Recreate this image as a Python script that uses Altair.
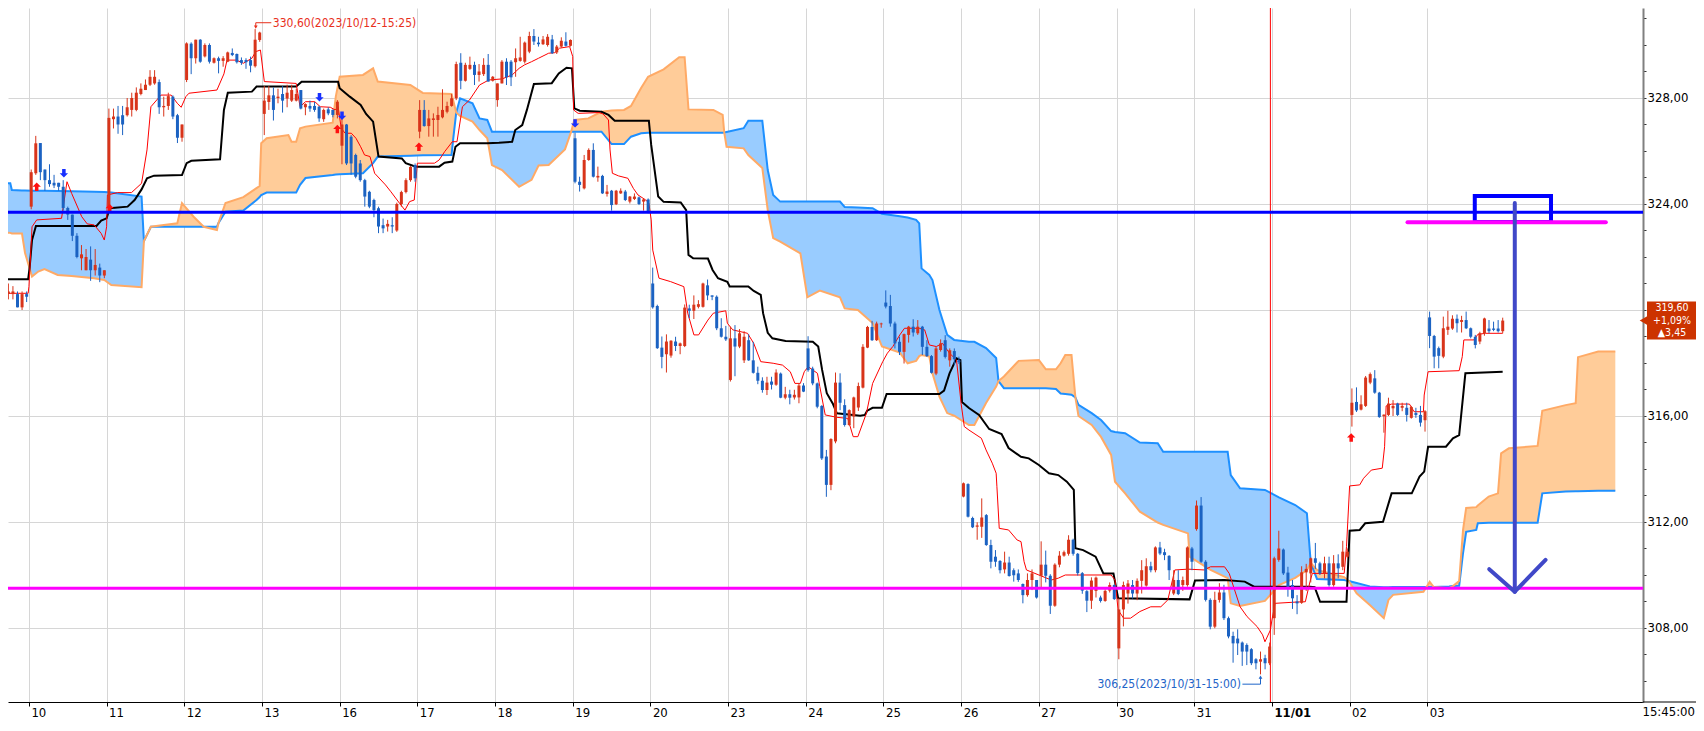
import json
import pandas as pd
import altair as alt


# ── look ───────────────────────────────────────────────────────────────────────

FONT = "'Liberation Sans Narrow', 'DejaVu Sans Condensed', sans-serif"
UP_COLOR, DOWN_COLOR = '#d8341a', '#1b62c2'
CLOUD_FILL = {'blue': '#99ccff', 'orange': '#ffcc99'}
CLOUD_LINE = {'blue': '#1e90ff', 'orange': '#ffaa66'}
PLOT_W, PLOT_H = 1635, 694

# ── axes ───────────────────────────────────────────────────────────────────────

DAY_LABELS = ['10', '11', '12', '13', '16', '17', '18', '19', '20', '23', '24',
              '25', '26', '27', '30', '31', '11/01', '02', '03']
BOLD_DAY = 16
BARS_PER_DAY = 17          # 25-minute bars, 08:45 .. 15:25
T_RANGE = [-0.205, 20.712]  # in sessions, 0 = 10/10
P_RANGE = [305.207, 331.396]
GRID_STEP = 4

# ── candles: (open, high, low, close) per bar ──────────────────────────────────

D1006 = [(320.6, 321.0, 320.4, 320.7), (320.6, 320.9, 320.4, 320.7), (320.6, 320.7, 320.1, 320.1),
         (320.1, 320.7, 320.0, 320.6), (320.6, 320.7, 320.3, 320.5)]
D1010 = [(323.9, 325.3, 323.8, 325.2), (325.16, 326.57, 325.1, 326.29), (326.3, 326.3, 324.9, 325.2),
         (325.3, 325.3, 324.5, 324.9), (324.9, 325.5, 324.65, 324.75), (324.8, 325.1, 324.6, 324.7),
         (324.8, 324.8, 324.5, 324.65), (324.65, 324.9, 323.75, 323.85), (323.85, 323.9, 323.4, 323.6),
         (323.6, 323.6, 322.6, 322.8), (322.8, 322.9, 321.95, 322.0), (321.95, 322.45, 321.5, 322.1),
         (321.5, 322.3, 321.5, 322.0), (321.9, 322.4, 321.1, 321.5), (321.5, 322.3, 321.3, 321.7),
         (321.6, 321.75, 321.05, 321.3), (321.3, 321.5, 321.2, 321.5)]
D1011 = [(323.9, 327.6, 323.7, 327.25), (327.2, 327.6, 326.85, 327.3), (327.3, 327.7, 326.65, 327.0),
         (327.35, 327.7, 326.6, 327.0), (327.35, 328.0, 327.3, 327.65), (327.55, 328.2, 327.3, 328.0),
         (327.55, 328.4, 327.5, 328.2), (328.15, 328.55, 328.1, 328.35), (328.3, 328.7, 328.3, 328.5),
         (328.5, 329.05, 328.45, 328.8), (328.55, 329.05, 328.5, 328.8), (328.6, 328.7, 327.4, 327.65),
         (327.65, 328.05, 327.3, 327.7), (327.7, 328.2, 327.55, 328.07), (328.05, 328.1, 327.2, 327.3),
         (327.35, 327.4, 326.3, 326.5), (326.5, 327.0, 326.35, 327.0)]
D1012 = [(328.68, 330.1, 328.6, 330.06), (330.05, 330.1, 328.9, 329.5), (329.5, 330.2, 329.3, 330.2),
         (330.2, 330.22, 329.33, 329.37), (329.57, 330.06, 329.53, 330.0), (330.0, 330.06, 329.3, 329.37),
         (329.33, 329.53, 329.3, 329.5), (329.5, 329.56, 328.93, 329.4), (329.4, 329.58, 329.18, 329.5),
         (329.37, 329.75, 329.35, 329.72), (329.7, 329.87, 329.58, 329.62), (329.66, 329.68, 329.3, 329.35),
         (329.43, 329.53, 329.25, 329.33), (329.43, 329.5, 329.1, 329.35), (329.43, 329.56, 328.97, 329.22),
         (329.2, 330.6, 329.15, 330.2), (330.19, 330.5, 330.12, 330.47)]
D1013 = [(327.4, 328.45, 326.6, 327.9), (327.85, 328.45, 327.55, 328.1), (328.1, 328.4, 327.15, 327.55),
         (328.0, 328.35, 327.8, 328.05), (328.15, 328.45, 327.45, 327.9), (327.98, 328.5, 327.65, 328.2),
         (327.9, 328.5, 327.85, 328.3), (327.9, 328.35, 327.87, 328.15), (328.3, 328.3, 327.57, 327.6),
         (327.65, 327.8, 327.35, 327.77), (327.7, 327.9, 327.48, 327.6), (327.7, 327.85, 327.48, 327.55),
         (327.67, 327.7, 327.1, 327.23), (327.2, 327.6, 327.1, 327.55), (327.57, 327.65, 327.35, 327.42),
         (327.55, 327.57, 327.27, 327.36), (327.36, 327.92, 327.23, 327.86)]
D1016 = [(326.2, 327.35, 325.5, 327.0), (327.0, 327.02, 325.47, 325.53), (326.54, 326.6, 325.1, 325.53),
         (325.85, 325.9, 324.97, 325.03), (325.53, 325.66, 324.84, 324.9), (324.9, 324.95, 323.9, 324.28),
         (324.46, 324.5, 323.84, 323.9), (324.15, 324.2, 323.5, 323.77), (323.84, 323.9, 322.9, 323.15),
         (323.2, 323.45, 322.9, 323.08), (323.15, 323.4, 322.96, 323.25), (323.2, 323.5, 322.9, 323.15),
         (323.0, 324.05, 322.95, 324.0), (324.0, 324.5, 323.9, 324.45), (324.45, 324.97, 324.4, 324.9),
         (324.9, 325.43, 324.84, 325.4), (325.47, 325.53, 324.84, 324.97)]
D1017 = [(326.73, 327.92, 326.48, 327.55), (327.55, 327.92, 326.92, 326.94), (326.94, 327.55, 326.54, 327.23),
         (327.17, 327.42, 326.54, 327.23), (327.17, 327.67, 326.54, 327.36), (327.27, 328.33, 327.23, 327.55),
         (327.48, 327.86, 327.42, 327.7), (327.7, 328.15, 327.67, 327.99), (327.99, 329.37, 327.92, 329.28),
         (329.33, 329.69, 328.33, 328.65), (328.65, 329.33, 328.62, 329.25), (329.1, 329.56, 329.06, 329.25),
         (329.25, 329.37, 328.49, 328.87), (328.87, 329.28, 328.62, 329.0), (328.9, 329.5, 328.83, 329.25),
         (329.25, 329.66, 328.62, 328.62), (328.65, 328.83, 328.62, 328.8)]
D1018 = [(327.92, 328.55, 327.67, 328.55), (328.55, 329.43, 328.55, 329.37), (329.37, 329.5, 328.49, 328.78),
         (329.37, 329.43, 328.45, 328.78), (329.35, 329.87, 328.8, 329.5), (329.4, 330.31, 329.37, 329.53),
         (329.37, 330.13, 329.3, 330.09), (329.75, 330.5, 329.69, 330.34), (330.34, 330.6, 330.0, 330.13),
         (330.09, 330.31, 329.94, 330.03), (330.03, 330.34, 330.0, 330.21), (330.0, 330.41, 329.94, 330.31),
         (330.21, 330.38, 329.66, 329.69), (329.72, 330.0, 329.66, 329.94), (329.94, 330.29, 329.9, 330.16),
         (330.13, 330.48, 329.94, 329.97), (329.97, 330.21, 329.94, 330.19)]
D1019 = [(326.48, 326.69, 324.78, 324.84), (324.84, 325.03, 324.47, 324.72), (324.59, 325.85, 324.55, 325.66),
         (325.66, 326.1, 325.63, 326.04), (326.04, 326.29, 325.0, 325.03), (325.0, 325.41, 324.84, 325.06),
         (325.06, 325.1, 324.38, 324.4), (324.38, 324.72, 324.28, 324.47), (324.5, 324.53, 323.75, 323.96),
         (323.99, 324.53, 323.96, 324.5), (324.4, 324.59, 324.38, 324.5), (324.47, 324.53, 324.11, 324.15),
         (324.09, 324.3, 324.02, 324.28), (324.19, 324.4, 324.15, 324.28), (324.25, 324.28, 323.96, 324.0),
         (324.09, 324.21, 323.75, 324.17), (324.17, 324.21, 323.65, 323.71)]
D1020 = [(321.0, 321.6, 320.05, 320.1), (320.15, 320.2, 318.53, 318.56), (318.58, 319.0, 317.8, 318.23),
         (318.33, 319.08, 317.64, 318.81), (318.28, 318.86, 318.2, 318.84), (318.81, 318.99, 318.45, 318.64),
         (318.64, 318.77, 318.33, 318.74), (318.64, 320.21, 318.6, 320.09), (320.06, 320.2, 319.69, 319.97),
         (319.97, 320.55, 319.66, 320.2), (320.12, 320.37, 320.06, 320.22), (320.12, 321.03, 320.09, 321.0),
         (320.93, 321.15, 320.37, 320.55), (320.55, 320.55, 320.37, 320.5), (320.5, 320.55, 319.24, 319.31),
         (319.31, 319.69, 318.96, 318.99), (318.99, 319.4, 318.83, 318.89)]
D1023 = [(317.36, 319.37, 317.3, 318.93), (318.93, 319.43, 317.5, 318.62), (318.62, 319.28, 318.56, 319.12),
         (318.1, 319.2, 318.0, 318.99), (318.86, 319.08, 318.08, 318.1), (318.1, 318.8, 317.6, 317.63),
         (317.63, 317.86, 317.2, 317.33), (317.33, 317.46, 316.88, 316.98), (316.98, 317.48, 316.79, 317.26),
         (317.3, 317.48, 317.0, 317.18), (317.18, 317.76, 317.14, 317.64), (317.6, 317.64, 316.67, 316.69),
         (316.69, 317.1, 316.63, 316.82), (316.82, 316.99, 316.44, 316.69), (316.7, 316.99, 316.62, 316.8),
         (316.7, 317.24, 316.48, 317.15), (317.15, 317.24, 316.9, 316.92)]
D1024 = [(318.55, 319.01, 317.67, 317.73), (317.79, 317.86, 317.16, 317.23), (317.23, 317.26, 316.29, 316.35),
         (316.38, 316.41, 314.34, 314.4), (314.47, 314.72, 312.95, 313.4), (313.4, 315.16, 313.2, 315.13),
         (315.04, 317.64, 314.97, 317.26), (317.26, 317.61, 316.22, 316.5), (316.41, 316.63, 315.6, 315.66),
         (315.66, 316.25, 315.63, 316.22), (315.98, 316.73, 315.54, 316.7), (316.32, 317.26, 316.19, 317.13),
         (317.07, 318.71, 317.04, 318.61), (318.58, 319.4, 318.56, 319.36), (319.36, 319.59, 318.83, 318.86),
         (318.86, 319.56, 318.83, 319.49), (319.46, 319.52, 319.33, 319.49)]
D1025 = [(320.28, 320.74, 320.06, 320.13), (320.15, 320.57, 319.37, 319.49), (319.49, 319.56, 318.55, 318.74),
         (318.8, 318.99, 318.3, 318.42), (318.42, 319.11, 317.98, 319.09), (319.06, 319.4, 318.77, 319.37),
         (319.37, 319.65, 319.0, 319.15), (319.12, 319.62, 319.06, 319.37), (319.37, 319.4, 318.3, 318.61),
         (318.61, 318.86, 318.23, 318.26), (318.26, 318.3, 317.6, 317.63), (317.6, 318.61, 317.54, 318.55),
         (318.49, 318.89, 318.43, 318.74), (318.86, 319.05, 318.17, 318.23), (318.1, 318.55, 317.86, 318.48),
         (318.45, 318.55, 317.93, 318.14), (318.1, 318.24, 317.96, 318.03)]
D1026 = [(312.96, 313.49, 312.93, 313.46), (313.43, 313.46, 312.17, 312.2), (312.15, 312.2, 311.77, 311.8),
         (311.82, 311.99, 311.33, 311.87), (311.82, 312.89, 311.4, 312.17), (312.26, 312.3, 311.1, 311.13),
         (311.13, 311.33, 310.25, 310.5), (310.69, 310.94, 310.31, 310.5), (310.53, 310.56, 310.06, 310.18),
         (310.21, 310.88, 310.06, 310.47), (310.47, 310.69, 309.94, 309.96), (310.18, 310.25, 309.75, 309.99),
         (310.06, 310.21, 309.74, 309.81), (309.66, 309.68, 308.93, 309.24), (309.24, 310.06, 309.18, 309.81),
         (309.81, 310.21, 309.43, 310.06), (309.81, 309.81, 309.11, 309.15)]
D1027 = [(309.97, 311.27, 309.5, 310.39), (310.39, 310.92, 309.72, 309.97), (309.97, 310.03, 308.53, 308.84),
         (308.84, 310.44, 308.8, 310.39), (310.39, 310.9, 310.29, 310.73), (310.73, 310.92, 310.69, 310.86),
         (310.8, 311.5, 310.73, 311.33), (311.33, 311.37, 310.73, 310.8), (310.8, 310.83, 309.98, 310.07),
         (310.07, 310.11, 309.29, 309.41), (309.39, 309.43, 308.6, 309.03), (309.03, 309.91, 308.72, 309.79),
         (309.4, 309.94, 309.15, 309.9), (309.15, 309.22, 308.96, 309.02), (309.02, 309.46, 308.99, 309.4),
         (309.41, 309.72, 309.34, 309.62), (309.62, 309.65, 309.06, 309.09)]
D1030 = [(307.23, 309.12, 306.82, 308.7), (308.7, 309.75, 308.06, 309.62), (309.3, 309.81, 308.92, 309.68),
         (309.62, 309.81, 309.11, 309.3), (309.3, 309.87, 309.05, 309.78), (309.78, 310.56, 309.3, 310.18),
         (309.6, 310.63, 309.56, 310.33), (310.33, 310.5, 310.1, 310.18), (310.18, 311.08, 310.1, 311.04),
         (311.04, 311.25, 310.75, 310.81), (310.86, 310.99, 310.56, 310.75), (310.72, 310.75, 309.81, 310.18),
         (309.3, 310.18, 309.24, 309.81), (309.81, 310.18, 309.24, 309.28), (309.62, 309.94, 309.4, 309.81),
         (309.62, 311.08, 309.56, 311.04), (311.0, 311.06, 310.18, 310.5)]
D1031 = [(311.73, 312.81, 311.67, 312.62), (312.62, 312.94, 310.46, 310.5), (310.5, 310.56, 309.0, 309.06),
         (309.06, 309.12, 307.95, 308.05), (308.05, 309.37, 307.99, 309.06), (309.06, 309.69, 308.96, 309.34),
         (309.34, 309.63, 308.3, 308.37), (308.37, 308.43, 307.61, 307.68), (307.7, 307.86, 306.69, 307.42),
         (307.6, 307.95, 306.98, 307.42), (307.45, 307.49, 306.57, 307.11), (307.36, 307.42, 306.6, 307.11),
         (307.2, 307.24, 306.6, 306.67), (306.82, 306.86, 306.44, 306.67), (306.73, 307.11, 306.25, 306.82),
         (306.86, 306.99, 306.44, 306.67), (306.67, 307.45, 306.6, 307.3)]
D1101 = [(308.37, 310.69, 307.74, 310.63), (310.57, 311.67, 310.5, 311.0), (310.96, 311.0, 310.0, 310.06),
         (310.09, 310.31, 309.18, 309.5), (309.62, 309.81, 308.72, 309.12), (309.0, 309.24, 308.52, 308.93),
         (308.95, 310.33, 308.91, 310.1), (310.1, 310.42, 309.4, 310.23), (310.06, 310.66, 309.72, 310.63),
         (310.63, 311.21, 310.23, 310.46), (310.44, 310.5, 310.0, 310.06), (310.06, 310.69, 309.87, 310.44),
         (310.44, 310.69, 309.56, 309.62), (309.62, 310.75, 309.56, 310.44), (310.44, 310.78, 309.87, 310.25),
         (310.31, 311.29, 310.18, 310.88), (310.69, 311.0, 310.63, 310.88)]
D1102 = [(316.04, 317.04, 315.6, 316.5), (316.53, 317.08, 316.15, 316.21), (316.24, 316.78, 316.21, 316.44),
         (316.38, 317.51, 316.34, 317.45), (317.26, 317.64, 317.2, 317.58), (317.42, 317.73, 316.84, 316.88),
         (316.88, 316.91, 315.93, 315.96), (315.99, 316.06, 315.37, 316.05), (316.04, 316.69, 316.0, 316.47),
         (316.29, 316.6, 316.0, 316.38), (316.47, 316.5, 316.0, 316.04), (316.31, 316.5, 316.18, 316.38),
         (316.31, 316.5, 315.79, 316.04), (315.93, 316.38, 315.9, 316.34), (316.11, 316.31, 315.93, 316.04),
         (316.04, 316.38, 315.6, 315.75), (315.84, 316.22, 315.41, 316.18)]
D1103 = [(319.72, 319.94, 318.56, 319.02), (319.02, 319.06, 317.8, 318.24), (318.56, 318.62, 317.8, 318.27),
         (318.24, 319.75, 318.18, 319.31), (319.25, 319.97, 319.06, 319.37), (319.3, 319.8, 319.25, 319.67),
         (319.67, 319.83, 319.15, 319.5), (319.55, 319.78, 319.15, 319.62), (319.62, 319.94, 319.28, 319.31),
         (319.31, 319.34, 318.93, 318.99), (318.99, 319.06, 318.55, 318.68), (318.81, 319.18, 318.71, 319.12),
         (319.12, 319.71, 319.03, 319.68), (319.3, 319.62, 319.12, 319.2), (319.3, 319.56, 319.2, 319.25),
         (319.3, 319.62, 319.15, 319.2), (319.2, 319.71, 319.12, 319.6)]

# (session index, first bar slot, bars)
SESSIONS = [(-1, 12, D1006), (0, 0, D1010), (1, 0, D1011), (2, 0, D1012), (3, 0, D1013),
            (4, 0, D1016), (5, 0, D1017), (6, 0, D1018), (7, 0, D1019), (8, 0, D1020),
            (9, 0, D1023), (10, 0, D1024), (11, 0, D1025), (12, 0, D1026), (13, 0, D1027),
            (14, 0, D1030), (15, 0, D1031), (16, 0, D1101), (17, 0, D1102), (18, 0, D1103)]

# ── ichimoku lines, (session time, price) ──────────────────────────────────────

TENKAN = [(-0.31, 320.63), (-0.01, 320.63), (0.00, 320.88), (0.04, 323.14), (0.10, 323.40), (0.42, 323.46),
          (0.49, 324.84), (0.55, 324.40), (0.68, 323.52), (0.75, 323.25), (0.84, 323.21), (0.93, 322.89),
          (0.97, 322.64), (1.00, 323.14), (1.01, 324.34), (1.14, 324.43), (1.32, 324.43), (1.45, 324.78),
          (1.52, 326.04), (1.57, 327.67), (1.70, 328.11), (1.83, 328.11), (1.91, 327.80), (1.96, 327.65),
          (2.02, 328.05), (2.06, 328.18), (2.42, 328.30), (2.51, 328.91), (2.55, 329.43), (2.67, 329.43),
          (2.76, 329.31), (2.87, 329.50), (2.92, 329.75), (2.98, 329.81), (3.03, 328.62), (3.44, 328.55),
          (3.49, 327.67), (3.56, 327.86), (3.68, 327.86), (3.75, 327.67), (3.88, 327.65), (3.94, 327.55),
          (3.98, 327.67), (4.02, 326.86), (4.07, 326.67), (4.15, 326.67), (4.21, 326.48), (4.27, 326.16),
          (4.32, 325.85), (4.39, 325.79), (4.45, 325.16), (4.59, 324.72), (4.66, 324.46), (4.77, 324.03),
          (4.84, 323.77), (4.90, 324.09), (4.96, 324.15), (5.00, 325.54), (5.22, 325.54), (5.28, 325.66),
          (5.35, 325.97), (5.45, 326.35), (5.51, 326.35), (5.58, 327.67), (5.67, 327.92), (5.80, 328.49),
          (5.92, 328.68), (6.09, 328.72), (6.22, 328.87), (6.31, 329.12), (6.38, 329.25), (6.47, 329.37),
          (6.56, 329.50), (6.69, 329.69), (6.77, 329.71), (6.83, 329.88), (6.96, 329.94), (7.00, 329.56),
          (7.01, 327.55), (7.07, 327.42), (7.34, 327.45), (7.39, 327.40), (7.46, 327.17), (7.48, 326.04),
          (7.51, 325.16), (7.59, 325.06), (7.71, 324.97), (7.78, 324.59), (7.84, 324.34), (7.94, 324.15),
          (7.98, 324.03), (8.01, 323.40), (8.03, 322.26), (8.11, 321.20), (8.26, 321.07), (8.43, 320.88),
          (8.48, 319.88), (8.56, 319.06), (8.62, 319.06), (8.74, 319.62), (8.81, 319.88), (8.97, 319.97),
          (8.99, 319.50), (9.06, 319.25), (9.25, 319.12), (9.33, 318.74), (9.42, 318.05), (9.58, 317.99),
          (9.70, 317.92), (9.80, 317.67), (9.86, 317.23), (9.93, 317.23), (9.98, 317.67), (10.03, 317.86),
          (10.15, 317.61), (10.18, 317.11), (10.25, 316.04), (10.40, 315.95), (10.54, 315.91), (10.61, 315.22),
          (10.67, 315.22), (10.78, 316.10), (10.86, 317.23), (10.99, 318.05), (11.05, 318.37), (11.12, 318.62),
          (11.21, 319.06), (11.27, 319.31), (11.46, 319.31), (11.53, 319.25), (11.59, 318.68), (11.68, 318.62),
          (11.76, 318.74), (11.85, 318.37), (11.94, 318.11), (12.00, 316.45), (12.04, 315.60), (12.10, 315.47),
          (12.26, 315.16), (12.32, 314.72), (12.40, 314.22), (12.45, 313.84), (12.46, 313.33), (12.49, 311.76),
          (12.61, 311.70), (12.72, 311.32), (12.77, 311.26), (12.81, 310.50), (12.84, 310.19), (13.00, 310.00),
          (13.16, 309.81), (13.25, 309.88), (13.34, 310.00), (13.93, 310.00), (13.98, 309.81), (14.02, 308.68),
          (14.09, 308.37), (14.18, 308.37), (14.30, 308.62), (14.44, 308.80), (14.57, 308.80), (14.66, 309.06),
          (14.75, 310.19), (14.92, 310.22), (15.13, 310.19), (15.21, 310.31), (15.39, 310.31), (15.45, 310.06),
          (15.59, 308.80), (15.68, 308.43), (15.81, 308.05), (15.88, 307.74), (15.91, 307.48), (15.98, 307.92),
          (16.00, 308.30), (16.04, 308.93), (16.32, 308.98), (16.43, 308.99), (16.49, 309.75), (16.52, 310.06),
          (16.93, 310.06), (16.96, 311.07), (17.00, 313.36), (17.13, 313.40), (17.18, 313.65), (17.28, 313.96),
          (17.42, 314.03), (17.45, 314.84), (17.47, 316.38), (17.54, 316.45), (17.77, 316.45), (17.83, 316.16),
          (17.95, 316.16), (17.96, 316.79), (18.01, 317.67), (18.41, 317.71), (18.45, 318.24), (18.47, 318.87),
          (18.60, 318.87), (18.65, 319.08), (18.75, 319.12), (18.97, 319.12)]

KIJUN = [(-0.31, 321.16), (-0.01, 321.16), (0.01, 321.63), (0.04, 322.64), (0.09, 323.17), (0.87, 323.17),
         (0.93, 323.37), (1.00, 323.46), (1.04, 323.84), (1.27, 323.90), (1.36, 324.15), (1.45, 324.55),
         (1.52, 324.97), (1.61, 325.07), (1.97, 325.09), (2.03, 325.54), (2.09, 325.63), (2.46, 325.69),
         (2.51, 327.55), (2.56, 328.20), (2.87, 328.24), (2.93, 328.43), (3.44, 328.43), (3.51, 328.61),
         (3.98, 328.61), (4.00, 328.37), (4.13, 328.05), (4.27, 327.74), (4.34, 327.40), (4.43, 327.11),
         (4.50, 325.79), (4.80, 325.72), (4.85, 325.54), (4.98, 325.41), (5.28, 325.41), (5.35, 325.56),
         (5.45, 325.60), (5.49, 326.16), (5.55, 326.29), (5.90, 326.29), (6.05, 326.31), (6.22, 326.35),
         (6.26, 326.79), (6.35, 326.98), (6.41, 327.55), (6.50, 328.53), (6.73, 328.56), (6.82, 328.93),
         (6.92, 329.14), (6.99, 329.12), (7.02, 327.61), (7.09, 327.52), (7.37, 327.48), (7.46, 327.36),
         (7.54, 327.14), (7.98, 327.14), (8.01, 326.23), (8.10, 324.28), (8.17, 324.08), (8.39, 324.06),
         (8.46, 323.77), (8.49, 322.08), (8.55, 321.95), (8.74, 321.94), (8.80, 321.51), (8.87, 321.20),
         (8.99, 321.06), (9.02, 320.89), (9.26, 320.89), (9.33, 320.72), (9.42, 320.57), (9.45, 319.88),
         (9.51, 319.14), (9.57, 318.93), (9.74, 318.83), (10.09, 318.80), (10.16, 318.62), (10.21, 317.74),
         (10.27, 316.86), (10.35, 316.45), (10.40, 316.10), (10.70, 316.01), (10.76, 316.04), (10.79, 316.20),
         (10.86, 316.31), (10.98, 316.31), (11.04, 316.83), (11.72, 316.83), (11.78, 316.96), (11.85, 317.61),
         (11.94, 318.18), (11.99, 318.11), (12.01, 316.53), (12.10, 316.30), (12.23, 316.04), (12.36, 315.51),
         (12.52, 315.32), (12.61, 314.79), (12.77, 314.46), (12.87, 314.40), (13.00, 314.15), (13.13, 313.84),
         (13.25, 313.77), (13.36, 313.52), (13.45, 313.21), (13.47, 311.01), (13.57, 310.94), (13.73, 310.69),
         (13.83, 310.06), (13.96, 310.06), (14.02, 309.12), (14.94, 309.08), (15.01, 309.79), (15.39, 309.81),
         (15.65, 309.75), (15.77, 309.56), (16.49, 309.56), (16.55, 309.54), (16.62, 308.99), (16.96, 308.99),
         (17.00, 311.67), (17.13, 311.70), (17.20, 311.95), (17.43, 312.01), (17.54, 313.08), (17.80, 313.08),
         (17.90, 313.71), (17.96, 313.90), (18.01, 314.84), (18.24, 314.84), (18.33, 315.16), (18.41, 315.28),
         (18.49, 317.61), (18.97, 317.67)]

# cloud: (session time, blue span, orange span)
CLOUD = [(-0.31, 324.78, 322.92), (-0.24, 324.78, 322.91), (-0.22, 324.53, 322.89), (-0.09, 324.51, 322.89),
         (-0.05, 324.51, 322.15), (0.04, 324.50, 321.26), (0.12, 324.50, 321.45), (0.20, 324.50, 321.54),
         (0.37, 324.49, 321.32), (0.55, 324.48, 321.28), (0.84, 324.46, 321.20), (0.97, 324.45, 321.13),
         (1.06, 324.43, 320.94), (1.45, 324.28, 320.86), (1.48, 322.60, 322.60), (1.57, 323.14, 323.14),
         (1.91, 323.14, 323.27), (1.97, 323.14, 324.03), (2.12, 323.14, 323.52), (2.25, 323.14, 323.14),
         (2.42, 323.14, 323.02), (2.44, 323.28, 323.28), (2.53, 323.71, 324.04), (2.76, 323.75, 324.26),
         (2.93, 324.15, 324.60), (2.97, 324.26, 324.68), (2.99, 324.34, 326.29), (3.06, 324.43, 326.48),
         (3.34, 324.43, 326.60), (3.38, 324.43, 326.35), (3.44, 324.43, 326.35), (3.49, 324.72, 326.86),
         (3.56, 324.98, 326.92), (3.91, 325.09, 327.07), (3.95, 325.11, 328.05), (4.00, 325.12, 328.80),
         (4.30, 325.16, 328.87), (4.43, 325.54, 329.12), (4.49, 325.79, 328.62), (4.91, 325.82, 328.49),
         (5.07, 325.84, 328.19), (5.44, 325.85, 328.15), (5.46, 326.42, 327.92), (5.50, 327.45, 327.45),
         (5.55, 327.99, 327.32), (5.71, 327.80, 327.11), (5.80, 327.23, 326.79), (5.90, 327.17, 326.48),
         (5.96, 326.73, 325.47), (6.09, 326.73, 325.28), (6.31, 326.73, 324.65), (6.47, 326.73, 324.91),
         (6.56, 326.73, 325.45), (6.69, 326.73, 325.47), (6.90, 326.73, 326.06), (6.98, 326.73, 326.73),
         (7.02, 326.73, 327.17), (7.20, 326.73, 327.23), (7.37, 326.73, 327.48), (7.50, 326.26, 327.53),
         (7.66, 326.26, 327.55), (7.75, 326.54, 327.70), (7.88, 326.67, 328.38), (7.97, 326.69, 328.80),
         (8.17, 326.69, 329.08), (8.37, 326.69, 329.54), (8.44, 326.69, 329.54), (8.49, 326.69, 327.57),
         (8.81, 326.69, 327.55), (8.93, 326.69, 327.36), (8.95, 326.70, 326.70), (8.98, 326.72, 326.16),
         (9.20, 326.86, 326.10), (9.26, 327.14, 325.85), (9.44, 327.14, 325.36), (9.51, 325.28, 323.77),
         (9.58, 324.34, 322.71), (9.67, 324.09, 322.58), (9.93, 324.09, 322.14), (10.02, 324.09, 320.48),
         (10.18, 324.09, 320.73), (10.44, 324.09, 320.48), (10.50, 323.89, 320.06), (10.67, 323.87, 320.00),
         (10.86, 323.84, 319.51), (10.98, 323.63, 318.62), (11.21, 323.54, 318.39), (11.31, 323.49, 317.99),
         (11.42, 323.40, 318.08), (11.46, 323.27, 318.26), (11.49, 321.57, 318.30), (11.59, 321.32, 318.24),
         (11.63, 321.13, 317.61), (11.72, 320.00, 316.73), (11.82, 319.06, 316.11), (11.91, 318.87, 316.01),
         (12.10, 318.80, 315.66), (12.17, 318.80, 315.66), (12.32, 318.56, 316.49), (12.45, 318.19, 317.11),
         (12.48, 317.32, 317.32), (12.55, 317.05, 317.49), (12.74, 317.05, 318.08), (13.00, 317.05, 318.11),
         (13.09, 317.05, 317.76), (13.22, 317.02, 317.76), (13.28, 316.85, 317.99), (13.34, 316.83, 318.30),
         (13.42, 316.80, 318.30), (13.47, 316.70, 316.70), (13.51, 316.42, 316.00), (13.68, 316.11, 315.66),
         (13.80, 315.85, 315.21), (13.93, 315.43, 314.53), (13.98, 315.40, 313.52), (14.11, 315.35, 313.08),
         (14.30, 315.00, 312.39), (14.53, 314.97, 311.98), (14.60, 314.65, 311.89), (14.92, 314.65, 311.57),
         (14.94, 314.65, 310.69), (15.21, 314.65, 310.19), (15.43, 314.65, 309.88), (15.47, 313.77, 308.93),
         (15.59, 313.27, 308.83), (15.91, 313.21, 309.02), (16.09, 312.93, 309.62), (16.30, 312.64, 309.89),
         (16.45, 312.33, 310.19), (16.50, 310.45, 310.45), (16.58, 309.85, 310.19), (16.93, 309.81, 309.92),
         (16.99, 309.77, 309.77), (17.09, 309.70, 309.31), (17.26, 309.57, 308.87), (17.44, 309.54, 308.37),
         (17.50, 309.54, 309.06), (17.56, 309.55, 309.25), (17.95, 309.55, 309.37), (17.99, 309.55, 309.55),
         (18.03, 309.55, 309.74), (18.08, 309.55, 309.55), (18.28, 309.57, 309.50), (18.33, 309.58, 309.58),
         (18.41, 309.59, 309.77), (18.46, 310.83, 311.70), (18.50, 311.63, 312.53), (18.63, 311.70, 312.56),
         (18.65, 311.95, 312.62), (18.79, 311.97, 312.96), (18.91, 311.97, 313.08), (18.95, 311.97, 314.59),
         (19.05, 311.97, 314.78), (19.42, 311.97, 314.87), (19.48, 313.08, 316.20), (19.78, 313.15, 316.41),
         (19.91, 313.16, 316.48), (19.94, 313.16, 318.22), (20.20, 313.18, 318.43), (20.42, 313.18, 318.43)]

# ── signals and drawings ───────────────────────────────────────────────────────

SIGNAL_UP = [(0.10, 324.65), (1.04, 323.84), (3.97, 326.83), (5.02, 326.16), (17.02, 315.19)]
SIGNAL_DOWN = [(0.45, 325.16), (3.74, 328.03), (4.03, 327.33), (7.03, 327.04)]

HIGH = {'t': 2.92, 'p': 330.60, 'when': '2023/10/12-15:25', 'label_t': 3.14, 'label_p': 330.84}
LOW = {'t': 15.853, 'p': 306.25, 'when': '2023/10/31-15:00', 'label_t': 15.6, 'label_p': 305.88}

TODAY_T = 15.98
RESIST_LEVEL = 323.69
SUPPORT_LEVEL = 309.50
TARGET_MARK = {'t': 17.745, 't2': 20.298, 'p': 323.31}
TARGET_BOX = {'t': 18.611, 't2': 19.592, 'p': 324.30, 'p2': 323.32}
DROP_ARROW = [(19.126, 324.04, 19.126, 309.37),
              (18.797, 310.22, 19.126, 309.37),
              (19.126, 309.37, 19.522, 310.57)]

LAST_PRICE, CHANGE_PCT, CHANGE = 319.60, 1.09, 3.45
CLOSE_TIME = '15:45:00'


def kfmt(v):
    return f'{v:.2f}'.replace('.', ',')


# ── frames ─────────────────────────────────────────────────────────────────────

rows = []
for day, first, bars in SESSIONS:
    for i, (o, h, l, c) in enumerate(bars):
        rows.append({'t': day + (first + i + 0.5) / BARS_PER_DAY, 'o': o, 'h': h, 'l': l, 'c': c,
                     'col': UP_COLOR if c >= o else DOWN_COLOR})
candles = pd.DataFrame(rows)

tenkan = pd.DataFrame(TENKAN, columns=['t', 'p'])
kijun = pd.DataFrame(KIJUN, columns=['t', 'p'])
cloud = pd.DataFrame(CLOUD, columns=['t', 'b', 'o'])

# split the cloud into runs where the same span is on top
seg_rows, seg, side = [], -1, None
for j in range(len(CLOUD) - 1):
    t0, b0, o0 = CLOUD[j]
    t1, b1, o1 = CLOUD[j + 1]
    s = 'blue' if (b0 - o0) + (b1 - o1) >= 0 else 'orange'
    if s != side:
        seg, side = seg + 1, s
        seg_rows.append({'t': t0, 'b': b0, 'o': o0, 'seg': seg, 'side': s})
    seg_rows.append({'t': t1, 'b': b1, 'o': o1, 'seg': seg, 'side': s})
cloud_seg = pd.DataFrame(seg_rows)

# ── encodings ──────────────────────────────────────────────────────────────────

XS = alt.Scale(domain=T_RANGE, nice=False, zero=False)
YS = alt.Scale(domain=P_RANGE, nice=False, zero=False)

X_AXIS = alt.Axis(
    values=list(range(len(DAY_LABELS))),
    labelExpr=f"{json.dumps(DAY_LABELS)}[datum.value]",
    labelAlign='left', labelBaseline='top', labelOffset=2, labelPadding=0,
    labelFontWeight={'condition': {'test': f'datum.value === {BOLD_DAY}', 'value': 'bold'},
                     'value': 'normal'},
    labelFontSize=13, labelColor='black', labelFlush=False, labelOverlap=False,
    tickSize=4, tickColor='black', domainColor='black',
    grid=True, gridColor='#d6d6d6', title=None,
)
# the price tag covers the label next to the last price
Y_AXIS = alt.Axis(
    orient='right', values=list(range(306, 332)),
    labelExpr=(f"datum.value % {GRID_STEP} === 0 && abs(datum.value - {LAST_PRICE}) > 1"
               " ? replace(format(datum.value, '.2f'), '.', ',') : ''"),
    labelPadding=1, labelFontSize=13, labelColor='black', labelFlush=False, labelOverlap=False,
    tickSize=3, tickColor='#333333', domainColor='#808080', domainWidth=2,
    grid=True, gridColor='#d6d6d6',
    gridOpacity={'condition': {'test': f'datum.value % {GRID_STEP} === 0', 'value': 1}, 'value': 0},
    title=None,
)


def xq(field):
    return alt.X(f'{field}:Q', scale=XS, axis=X_AXIS, title=None)


def yq(field):
    return alt.Y(f'{field}:Q', scale=YS, axis=Y_AXIS, title=None, stack=None)


one = pd.DataFrame({'k': [0]})

# ── layers ─────────────────────────────────────────────────────────────────────

cloud_area = alt.Chart(cloud_seg).mark_area(clip=True).encode(
    x=xq('t'), y=yq('b'), y2='o',
    color=alt.Color('side:N', scale=alt.Scale(domain=list(CLOUD_FILL), range=list(CLOUD_FILL.values())),
                    legend=None),
    detail='seg:N',
)
span_blue = alt.Chart(cloud).mark_line(clip=True, color=CLOUD_LINE['blue'], strokeWidth=2).encode(
    x=xq('t'), y=yq('b'))
span_orange = alt.Chart(cloud).mark_line(clip=True, color=CLOUD_LINE['orange'], strokeWidth=2).encode(
    x=xq('t'), y=yq('o'))

today = alt.Chart(pd.DataFrame({'t': [TODAY_T]})).mark_rule(color='#ff0000', strokeWidth=1).encode(
    x=xq('t'))

kijun_line = alt.Chart(kijun).mark_line(clip=True, color='black', strokeWidth=2).encode(
    x=xq('t'), y=yq('p'))
tenkan_line = alt.Chart(tenkan).mark_line(clip=True, color='#ff0000', strokeWidth=1).encode(
    x=xq('t'), y=yq('p'))

wicks = alt.Chart(candles).mark_rule(clip=True, strokeWidth=1).encode(
    x=xq('t'), y=yq('l'), y2='h', color=alt.Color('col:N', scale=None))
bodies = alt.Chart(candles).mark_bar(clip=True, size=3).encode(
    x=xq('t'), y=yq('o'), y2='c', color=alt.Color('col:N', scale=None))

ARROW_UP = 'M0,-1L1,0L0.42,0L0.42,1L-0.42,1L-0.42,0L-1,0Z'
ARROW_DOWN = 'M0,1L1,0L0.42,0L0.42,-1L-0.42,-1L-0.42,0L-1,0Z'
sig_up = alt.Chart(pd.DataFrame(SIGNAL_UP, columns=['t', 'p'])).mark_point(
    shape=ARROW_UP, filled=True, size=70, color='#ff1010', opacity=1).encode(x=xq('t'), y=yq('p'))
sig_down = alt.Chart(pd.DataFrame(SIGNAL_DOWN, columns=['t', 'p'])).mark_point(
    shape=ARROW_DOWN, filled=True, size=70, color='#1830ff', opacity=1).encode(x=xq('t'), y=yq('p'))

# high / low annotations
hi = pd.DataFrame([{'t': HIGH['t'], 't2': HIGH['label_t'] - 0.02, 'p': HIGH['p'] + 0.07,
                    'lp': HIGH['label_p'], 'txt': f"{kfmt(HIGH['p'])}({HIGH['when']})",
                    'lt': HIGH['label_t']}])
hi_h = alt.Chart(hi).mark_rule(color='#e8301c').encode(x=xq('t'), x2='t2', y=yq('lp'))
hi_v = alt.Chart(hi).mark_rule(color='#e8301c').encode(x=xq('t'), y=yq('lp'), y2='p')
hi_tip = alt.Chart(hi).mark_point(shape='triangle-down', filled=True, size=14, color='#e8301c',
                                  opacity=1).encode(x=xq('t'), y=yq('p'))
hi_txt = alt.Chart(hi).mark_text(align='left', baseline='middle', fontSize=12, color='#e8301c').encode(
    x=xq('lt'), y=yq('lp'), text='txt:N')

lo = pd.DataFrame([{'t': LOW['t'], 't2': LOW['label_t'] + 0.02, 'p': LOW['p'] - 0.1,
                    'lp': LOW['label_p'], 'txt': f"{kfmt(LOW['p'])}({LOW['when']})",
                    'lt': LOW['label_t']}])
lo_h = alt.Chart(lo).mark_rule(color='#1e64c8').encode(x=xq('t2'), x2='t', y=yq('lp'))
lo_v = alt.Chart(lo).mark_rule(color='#1e64c8').encode(x=xq('t'), y=yq('lp'), y2='p')
lo_tip = alt.Chart(lo).mark_point(shape='triangle-up', filled=True, size=14, color='#1e64c8',
                                  opacity=1).encode(x=xq('t'), y=yq('p'))
lo_txt = alt.Chart(lo).mark_text(align='right', baseline='middle', fontSize=12, color='#1e64c8').encode(
    x=xq('lt'), y=yq('lp'), text='txt:N')

# hand-drawn analysis
resist = alt.Chart(pd.DataFrame({'p': [RESIST_LEVEL]})).mark_rule(color='#0000ff', strokeWidth=3).encode(
    y=yq('p'))
support = alt.Chart(pd.DataFrame({'p': [SUPPORT_LEVEL]})).mark_rule(color='#ff00ff', strokeWidth=3).encode(
    y=yq('p'))
box = alt.Chart(pd.DataFrame([TARGET_BOX])).mark_rect(
    fillOpacity=0, stroke='#0000ff', strokeWidth=4).encode(x=xq('t'), x2='t2', y=yq('p'), y2='p2')
mark = alt.Chart(pd.DataFrame([TARGET_MARK])).mark_rule(
    color='#ff00ff', strokeWidth=4, strokeCap='round').encode(x=xq('t'), x2='t2', y=yq('p'))
drop = alt.Chart(pd.DataFrame(DROP_ARROW, columns=['t', 'p', 't2', 'p2'])).mark_rule(
    color='#4048c8', strokeWidth=4, strokeCap='round').encode(x=xq('t'), x2='t2', y=yq('p'), y2='p2')

# price tag at the right axis
tag_df = pd.DataFrame([{'p': LAST_PRICE}])
tag_box = alt.Chart(tag_df).mark_rect(color='#cc3300').transform_calculate(
    top=f'datum.p + {19 / 26.5:.4f}', bot=f'datum.p - {19 / 26.5:.4f}').encode(
    x=alt.value(PLOT_W + 4), x2=alt.value(PLOT_W + 53), y=yq('top'), y2='bot')
tag_point = alt.Chart(tag_df).mark_point(shape='triangle-left', filled=True, size=150,
                                         color='#cc3300', opacity=1).encode(
    x=alt.value(PLOT_W + 2), y=yq('p'))
tag_lines = [kfmt(LAST_PRICE), f'+{kfmt(CHANGE_PCT)}%', f'\u25b2{kfmt(CHANGE)}']
tag_text = [
    alt.Chart(tag_df).mark_text(align='center', baseline='middle', fontSize=10.5, color='white',
                                dy=dy).encode(x=alt.value(PLOT_W + 29), y=yq('p'), text=alt.value(s))
    for s, dy in zip(tag_lines, (-12.5, 0, 12.5))
]

close_lbl = alt.Chart(one).mark_text(align='right', baseline='top', fontSize=13, color='black').encode(
    x=alt.value(PLOT_W + 52), y=alt.value(PLOT_H + 4), text=alt.value(CLOSE_TIME))
axis_ext = alt.Chart(one).mark_rule(color='black').encode(
    x=alt.value(PLOT_W), x2=alt.value(PLOT_W + 53), y=alt.value(PLOT_H))

chart = alt.layer(
    cloud_area, span_blue, span_orange, today, kijun_line, tenkan_line, wicks, bodies,
    sig_up, sig_down, hi_h, hi_v, hi_tip, hi_txt, lo_h, lo_v, lo_tip, lo_txt,
    resist, support, box, mark, drop, tag_box, tag_point, *tag_text, close_lbl, axis_ext,
).properties(
    width=PLOT_W, height=PLOT_H, background='white',
    autosize=alt.AutoSizeParams(type='none'),
    padding={'left': 0, 'top': 0, 'right': 53, 'bottom': 16},
).configure(font=FONT).configure_view(stroke=None)

chart.save('out.html', embed_options={'renderer': 'svg', 'actions': False})
